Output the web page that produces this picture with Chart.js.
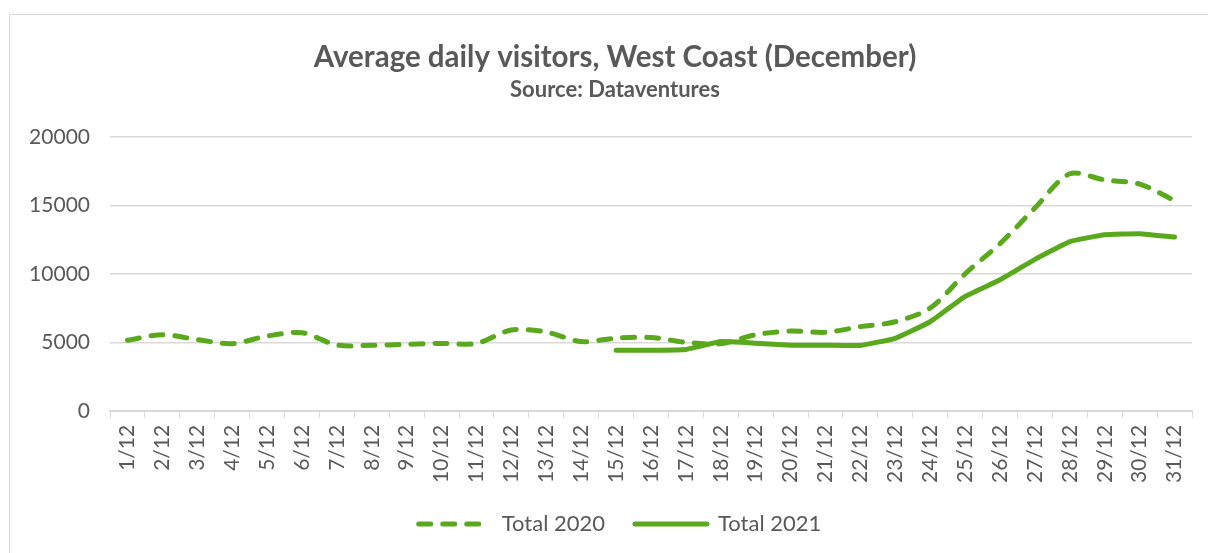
<!DOCTYPE html>
<html>
<head>
<meta charset="utf-8">
<script src="https://cdn.jsdelivr.net/npm/chart.js@4.4.1/dist/chart.umd.min.js"></script>
<style>
html,body{margin:0;padding:0;background:#fff;overflow:hidden;}
#frame{position:absolute;left:9px;top:14px;width:1210px;height:560px;border:1px solid #d9d9d9;box-sizing:border-box;}
#wrap{position:absolute;left:0;top:0;width:1208px;height:553px;}
</style>
</head>
<body>
<div id="frame"></div>
<div id="wrap"><canvas id="c" width="1208" height="553"></canvas></div>
<script>
const categories = ["1/12","2/12","3/12","4/12","5/12","6/12","7/12","8/12","9/12","10/12","11/12","12/12","13/12","14/12","15/12","16/12","17/12","18/12","19/12","20/12","21/12","22/12","23/12","24/12","25/12","26/12","27/12","28/12","29/12","30/12","31/12"];
const total2020 = [5150,5550,5200,4900,5450,5700,4800,4780,4850,4920,4920,5900,5750,5050,5300,5350,5000,4900,5550,5820,5730,6140,6500,7500,10000,12200,14800,17300,16850,16550,15350];
const total2021 = [null,null,null,null,null,null,null,null,null,null,null,null,null,null,4420,4420,4480,5050,4930,4780,4780,4770,5290,6500,8350,9560,11050,12350,12850,12930,12680];
const yTicks = [0,5000,10000,15000,20000];

const green = '#5AA81C';
const textCol = '#595959';
const gridCol = '#d9d9d9';
const fam = 'Lato, "Open Sans", sans-serif';

const shiftPlugin = {
  id: 'shiftBoxes',
  beforeDraw(chart) {
    const sh = (box, dx) => { if (box) { box.left += dx; box.right += dx; } };
    sh(chart.legend, 24);
    sh(chart.titleBlock, 19);
    const sub = chart.boxes.find(b => b !== chart.titleBlock && b.options && b.options.text === 'Source: Dataventures');
    sh(sub, 19);
  }
};

new Chart(document.getElementById('c'), {
  type: 'line',
  data: {
    labels: categories,
    datasets: [
      {label:'Total 2020', data: total2020, borderColor: green, backgroundColor: green, borderWidth: 5, borderDash:[12,12], borderCapStyle:'round', tension:0.3, pointRadius:0, fill:false},
      {label:'Total 2021', data: total2021, borderColor: green, backgroundColor: green, borderWidth: 5, borderCapStyle:'round', tension:0.1, pointRadius:0, fill:false, spanGaps:false}
    ]
  },
  plugins: [shiftPlugin],
  options: {
    responsive:false, animation:false, devicePixelRatio:1,
    layout:{padding:{left:0,right:16,top:0,bottom:8}},
    plugins:{
      title:{display:true, text:'Average daily visitors, West Coast (December)', color:textCol, font:{family:fam, size:29.5, weight:'bold'}, padding:{top:40,bottom:1}},
      subtitle:{display:true, text:'Source: Dataventures', color:textCol, font:{family:fam, size:22, weight:'bold'}, padding:{top:0,bottom:34}},
      legend:{position:'bottom', labels:{color:textCol, font:{family:fam, size:22}, usePointStyle:true, pointStyle:'line', pointStyleWidth:72, boxWidth:72, padding:30,
        generateLabels:(chart)=>{
          const items = Chart.defaults.plugins.legend.labels.generateLabels(chart);
          items.forEach(it=>{
            const ds = chart.data.datasets[it.datasetIndex];
            it.lineDash = ds.borderDash || [];
            it.lineWidth = 5;
            it.lineCap = 'round';
            it.strokeStyle = ds.borderColor;
            it.fillStyle = ds.borderColor;
          });
          return items;
        }}},
      tooltip:{enabled:false}
    },
    scales:{
      x:{
        offset:true,
        afterFit:(s)=>{s.height -= 7;},
        grid:{display:true, drawOnChartArea:false, drawTicks:true, tickLength:7, color:gridCol, offset:true},
        border:{display:true, color:gridCol, width:2},
        ticks:{color:textCol, font:{family:fam, size:21}, minRotation:90, maxRotation:90, autoSkip:false, padding:7}
      },
      y:{
        min:0, max:20000,
        afterFit:(s)=>{s.width=110;},
        afterBuildTicks:(s)=>{s.ticks = yTicks.map(v=>({value:v}));},
        grid:{color:gridCol, lineWidth:1.5, drawTicks:false},
        border:{display:false},
        ticks:{color:textCol, font:{family:fam, size:21}, padding:20, callback:(v)=>String(v)}
      }
    }
  }
});
</script>
</body>
</html>
